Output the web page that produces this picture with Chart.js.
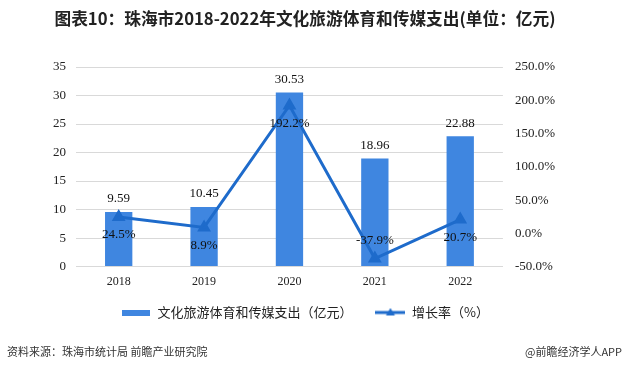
<!DOCTYPE html>
<html>
<head>
<meta charset="utf-8">
<script src="https://cdn.jsdelivr.net/npm/chart.js"></script>
<style>
  html, body { margin: 0; padding: 0; background: #fff; }
  #wrap { position: relative; width: 627px; height: 372px; }
</style>
</head>
<body>
<div id="wrap"><canvas id="mainChart" width="627" height="372"></canvas></div>
<script>
// ==================== DATA ====================
const years = ['2018', '2019', '2020', '2021', '2022'];
const spending = [9.59, 10.45, 30.53, 18.96, 22.88];      // 亿元
const growthRate = [24.5, 8.9, 192.2, -37.9, 20.7];        // %

const barColor = '#3F86E0';
const lineColor = '#1E6BCB';
const serif = '"Liberation Serif", "Times New Roman", serif';
const cjk = '"Noto Sans CJK SC", "Noto Sans", sans-serif';

// legend swatches (bar block / line with triangle)
function makeBarSwatch() {
    const c = document.createElement('canvas');
    c.width = 28; c.height = 6;
    const ctx = c.getContext('2d');
    ctx.fillStyle = barColor;
    ctx.fillRect(0, 0, 28, 6);
    return c;
}
function makeLineSwatch() {
    const c = document.createElement('canvas');
    c.width = 30; c.height = 10;
    const ctx = c.getContext('2d');
    ctx.strokeStyle = lineColor;
    ctx.lineWidth = 3;
    ctx.beginPath();
    ctx.moveTo(0, 5); ctx.lineTo(30, 5);
    ctx.stroke();
    ctx.fillStyle = lineColor;
    ctx.beginPath();
    ctx.moveTo(15, 0.5); ctx.lineTo(19.5, 8); ctx.lineTo(10.5, 8);
    ctx.closePath();
    ctx.fill();
    return c;
}

// value labels for bars and line points
const valueLabels = {
    id: 'valueLabels',
    afterDatasetsDraw(chart) {
        const ctx = chart.ctx;
        ctx.save();
        ctx.font = '13px ' + serif;
        ctx.fillStyle = '#111';
        ctx.textAlign = 'center';
        ctx.textBaseline = 'middle';
        chart.getDatasetMeta(0).data.forEach((bar, i) => {
            ctx.fillText(spending[i].toFixed(2), bar.x, bar.y - 13);
        });
        chart.getDatasetMeta(1).data.forEach((pt, i) => {
            const v = growthRate[i];
            const dy = v < 0 ? -18 : 18;
            ctx.fillText(v.toFixed(1) + '%', pt.x, pt.y + dy);
        });
        ctx.restore();
    }
};

// source line at the bottom
const footer = {
    id: 'footer',
    afterDraw(chart) {
        const ctx = chart.ctx;
        ctx.save();
        ctx.font = '11px ' + cjk;
        ctx.fillStyle = '#333';
        ctx.textBaseline = 'middle';
        ctx.textAlign = 'left';
        ctx.fillText('资料来源：珠海市统计局 前瞻产业研究院', 7, 352);
        ctx.textAlign = 'right';
        ctx.fillText('@前瞻经济学人APP', 622, 352);
        ctx.restore();
    }
};

const chart = new Chart(document.getElementById('mainChart'), {
    type: 'bar',
    data: {
        labels: years,
        datasets: [
            {
                label: '文化旅游体育和传媒支出（亿元）',
                data: spending,
                backgroundColor: barColor,
                barPercentage: 0.32,
                categoryPercentage: 1,
                yAxisID: 'y',
                order: 1
            },
            {
                type: 'line',
                label: '增长率（%）',
                data: growthRate,
                borderColor: lineColor,
                backgroundColor: lineColor,
                borderWidth: 3,
                tension: 0,
                pointStyle: 'triangle',
                pointRadius: 5,
                yAxisID: 'y1',
                order: 0
            }
        ]
    },
    options: {
        responsive: false,
        animation: false,
        layout: { padding: { left: 43, right: 60, top: 0, bottom: 43 } },
        plugins: {
            title: {
                display: true,
                text: '图表10：珠海市2018-2022年文化旅游体育和传媒支出(单位：亿元)',
                color: '#222',
                font: { family: cjk, size: 16.7, weight: 'bold' },
                padding: { top: 9, bottom: 38 }
            },
            legend: {
                position: 'bottom',
                sort: (a, b) => a.datasetIndex - b.datasetIndex,
                labels: {
                    usePointStyle: true,
                    pointStyleWidth: 30,
                    color: '#222',
                    padding: 17,
                    font: { family: cjk, size: 13 },
                    generateLabels(chart) {
                        return [
                            { text: '文化旅游体育和传媒支出（亿元）  ', pointStyle: makeBarSwatch(), datasetIndex: 0, fontColor: '#222', lineWidth: 0, strokeStyle: 'transparent', fillStyle: barColor },
                            { text: '增长率（%）', pointStyle: makeLineSwatch(), datasetIndex: 1, fontColor: '#222', lineWidth: 0, strokeStyle: 'transparent', fillStyle: lineColor }
                        ];
                    }
                }
            },
            tooltip: { enabled: false }
        },
        scales: {
            x: {
                grid: { display: false },
                border: { color: '#d9d9d9' },
                ticks: { color: '#222', font: { family: serif, size: 12 }, padding: 0 }
            },
            y: {
                position: 'left',
                min: 0,
                max: 35,
                ticks: { stepSize: 5, color: '#222', font: { family: serif, size: 13 }, padding: 10 },
                grid: { color: '#d9d9d9', drawTicks: false },
                border: { display: false }
            },
            y1: {
                position: 'right',
                min: -50,
                max: 250,
                ticks: {
                    stepSize: 50,
                    color: '#222',
                    font: { family: serif, size: 13 },
                    padding: 12,
                    callback: v => v.toFixed(1) + '%'
                },
                grid: { drawOnChartArea: false, drawTicks: false },
                border: { display: false }
            }
        }
    },
    plugins: [valueLabels, footer]
});
</script>
</body>
</html>
